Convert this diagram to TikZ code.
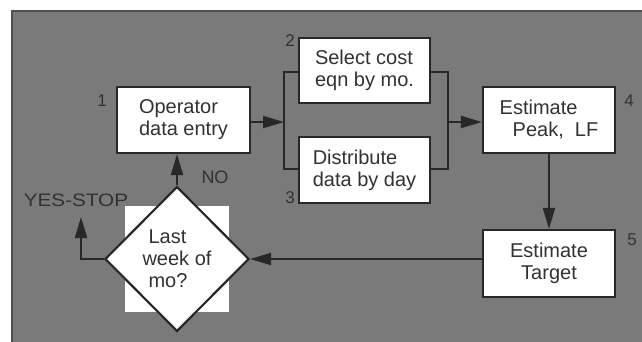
\documentclass[tikz,border=0pt]{standalone}
\usepackage{fontspec}
\setmainfont{Liberation Sans}
\usetikzlibrary{arrows.meta,shapes.geometric}
\definecolor{bggrey}{RGB}{122,122,122}
\definecolor{bgedge}{RGB}{80,80,80}
\definecolor{ink}{RGB}{40,40,40}
\definecolor{txt}{RGB}{50,50,50}
\begin{document}
\begin{tikzpicture}[x=1pt,y=-1pt,
  box/.style={draw=ink,line width=2.2pt,fill=white,inner sep=0pt,
    text=txt,font=\fontsize{20}{22}\selectfont,align=left},
  dia/.style={diamond,draw=ink,line width=2.2pt,fill=white,inner sep=0pt,
    minimum width=144pt,minimum height=145pt,text=txt,
    font=\fontsize{20}{22}\selectfont,align=left},
  num/.style={text=txt,font=\fontsize{17}{17}\selectfont,inner sep=0pt},
  lbl/.style={text=txt,font=\fontsize{18}{18}\selectfont,inner sep=0pt},
  conn/.style={draw=ink,line width=2.2pt},
  arr/.style={conn,-{Triangle[length=21pt,width=12pt]}}]
\useasboundingbox (0,0) rectangle (642,341);
\fill[white] (0,0) rectangle (642,341);
\fill[bggrey] (12,11) rectangle (646,345);
\draw[bgedge,line width=1.6pt] (12,345) -- (12,11) -- (646,11);
% white square behind diamond
\fill[white] (125,206) rectangle (229,312);
% boxes
\node[box,minimum width=133pt,minimum height=66pt] (b1) at (183.5,120) {Operator\\data entry};
\node[box,minimum width=131pt,minimum height=65pt] (b2) at (364.5,70.5) {Select cost\\eqn by mo.};
\node[box,minimum width=131pt,minimum height=66pt] (b3) at (364.5,170) {Distribute\\data by day};
\node[box,minimum width=132pt,minimum height=66pt] (b4) at (549,120) {Estimate\\\hspace*{13pt}Peak,\ \ LF};
\node[box,minimum width=132pt,minimum height=67pt,align=center] (b5) at (549,263.5) {Estimate\\Target};
\node[dia] (d) at (177,259) {\hspace*{6pt}Last\\week of\\\hspace*{6pt}mo?};
% numbers
\node[num] (n1) at (102,101) {1};
\node[num] (n2) at (290,41) {2};
\node[num] (n3) at (290,198) {3};
\node[num] (n4) at (629,101) {4};
\node[num] (n5) at (632,240) {5};
% labels
\node[lbl] (no) at (215,177) {NO};
\node[lbl,xscale=1.15] (ys) at (76,200) {YES-STOP};
% bracket coordinates
\coordinate (lt) at (284,72);
\coordinate (lb) at (284,169);
\coordinate (lm) at (284,122);
\coordinate (rt) at (448,72);
\coordinate (rb) at (448,169);
\coordinate (rm) at (448,122);
\coordinate (ye) at (81,217);
% connectors
\draw[conn] (b2.west |- lt) -- (lt) -- (lb) -- (b3.west |- lb);
\draw[conn] (b2.east |- rt) -- (rt) -- (rb) -- (b3.east |- rb);
\draw[arr] (b1.east |- lm) -- (lm);
\draw[arr] (rm) -- (b4.west |- rm);
\draw[arr] (b4.south) -- (b5.north);
\draw[arr] (b5.west |- d.east) -- (d.east);
\draw[arr] (d.north) -- (d.north |- b1.south);
\draw[arr] (d.west) -- (ye |- d.west) -- (ye);
\end{tikzpicture}
\end{document}
